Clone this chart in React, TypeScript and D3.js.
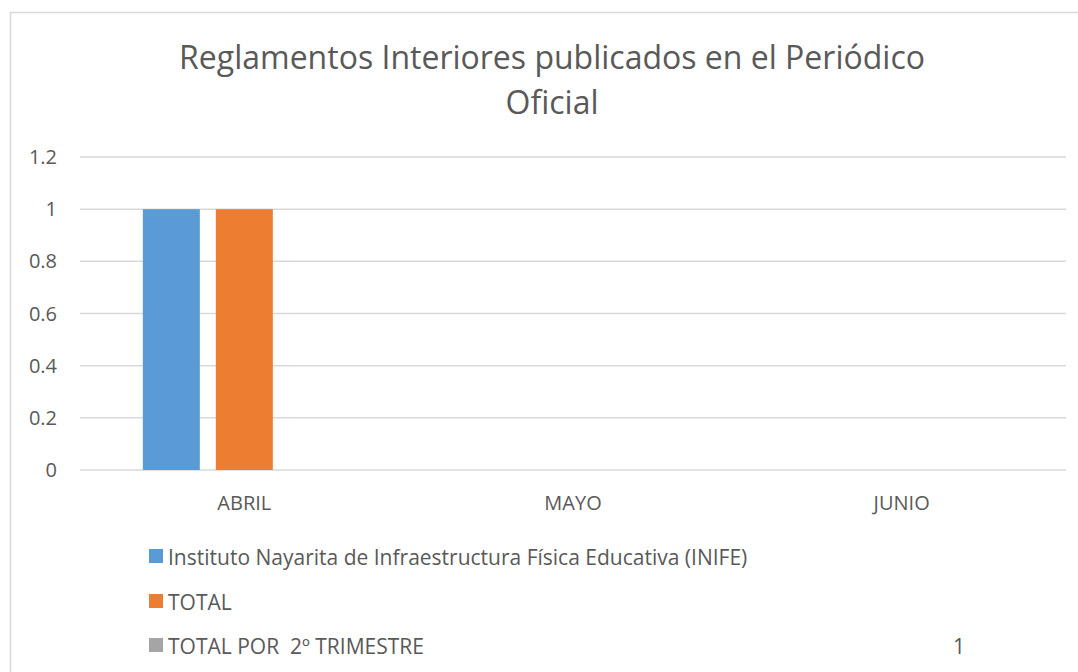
import React from "react";
import * as d3 from "d3";

const categories = ["ABRIL", "MAYO", "JUNIO"];
const seriesNames = [
  "Instituto Nayarita de Infraestructura Física Educativa (INIFE)",
  "TOTAL",
  "TOTAL POR  2º TRIMESTRE",
];
const inifeValues = [1, 0, 0];
const totalValues = [1, 0, 0];
const trimestreValues = [0, 0, 0];
const trimestreTotal = "1";
const yTicks = [0, 0.2, 0.4, 0.6, 0.8, 1, 1.2];
const colors = ["#5b9bd5", "#ed7d31", "#a5a5a5"];

const W = 1078;
const H = 672;
const plot = { left: 80, right: 1066, top: 157, bottom: 470 };
const FONT = "'Open Sans', 'Noto Sans', sans-serif";
const TEXT = "#595959";

export default function App() {
  const series = [inifeValues, totalValues, trimestreValues];
  const x = d3
    .scaleBand<string>()
    .domain(categories)
    .range([plot.left, plot.right])
    .paddingInner(0)
    .paddingOuter(0);
  const bw = x.bandwidth();
  const barW = 57;
  const gap = 16;
  const groupW = barW * 3 + gap * 2;
  const inner = d3
    .scaleBand<number>()
    .domain([0, 1, 2])
    .range([(bw - groupW) / 2, (bw + groupW) / 2])
    .paddingInner(gap / (barW + gap))
    .paddingOuter(0);
  const y = d3.scaleLinear().domain([0, 1.2]).range([plot.bottom, plot.top]);

  const legendY = [556, 601, 645];

  return (
    <svg
      width={W}
      height={H}
      style={{ position: "absolute", left: 0, top: 0, background: "#fff", whiteSpace: "pre" }}
      fontFamily={FONT}
    >
      <rect x={0} y={0} width={W} height={H} fill="#fff" />
      <rect x={10.5} y={12.5} width={W + 10} height={H + 10} fill="none" stroke="#d9d9d9" strokeWidth={1.5} />
      <text x={552} y={69} textAnchor="middle" fontSize={32} fill={TEXT}>
        Reglamentos Interiores publicados en el Periódico
      </text>
      <text x={552} y={114} textAnchor="middle" fontSize={32} fill={TEXT}>
        Oficial
      </text>
      {yTicks.map((t) => (
        <g key={t}>
          <line x1={plot.left} x2={plot.right} y1={y(t)} y2={y(t)} stroke="#d9d9d9" strokeWidth={1.5} />
          <text x={57} y={y(t) + 7} textAnchor="end" fontSize={20} fill={TEXT}>
            {String(t)}
          </text>
        </g>
      ))}
      {categories.map((c, ci) =>
        series.map((s, si) => {
          const v = s[ci];
          if (!v) return null;
          const bx = (x(c) ?? 0) + (inner(si) ?? 0);
          return (
            <rect key={c + si} x={bx} y={y(v)} width={inner.bandwidth()} height={y(0) - y(v)} fill={colors[si]} />
          );
        })
      )}
      {categories.map((c) => (
        <text key={c} x={(x(c) ?? 0) + bw / 2} y={510} textAnchor="middle" fontSize={20} fill={TEXT}>
          {c}
        </text>
      ))}
      {seriesNames.map((n, i) => (
        <g key={n}>
          <rect x={149} y={legendY[i] - 7} width={14} height={14} fill={colors[i]} />
          <text x={168} y={legendY[i] + 8.5} fontSize={21} fill={TEXT} xmlSpace="preserve">
            {n}
          </text>
        </g>
      ))}
      <text x={959} y={legendY[2] + 8.5} textAnchor="middle" fontSize={21} fill={TEXT}>
        {trimestreTotal}
      </text>
    </svg>
  );
}
